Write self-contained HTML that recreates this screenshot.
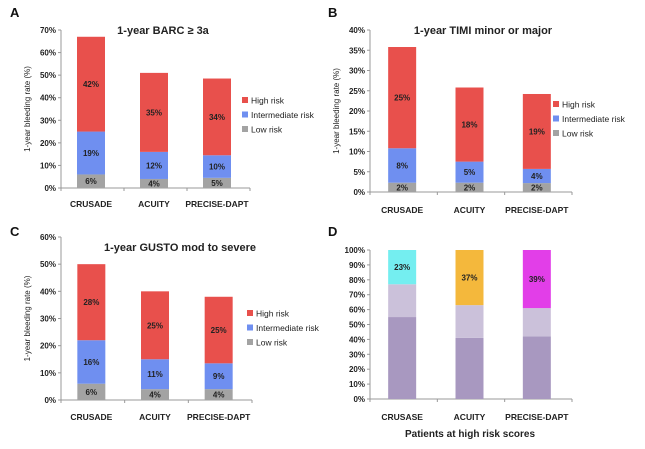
<!DOCTYPE html>
<html><head><meta charset="utf-8">
<style>
html,body{margin:0;padding:0;background:#fff;}
svg{display:block;font-family:"Liberation Sans",Arial,sans-serif;}
.t{font-size:8px;fill:#222;}
.b{font-weight:bold;}
.lg{font-size:8.5px;fill:#222;}
.cat{font-size:8.5px;font-weight:bold;fill:#222;}
</style></head>
<body>
<svg id="chart" width="645" height="449" viewBox="0 0 645 449"></svg>
<script>
const categories = ["CRUSADE","ACUITY","PRECISE-DAPT"];
const categoriesD = ["CRUSASE","ACUITY","PRECISE-DAPT"];
// Panel A: BARC >= 3a
const aLow = [6, 4, 4.5];
const aInt = [19, 12, 10];
const aHigh = [42, 35, 34];
const aLowLbl = ["6%","4%","5%"];
const aIntLbl = ["19%","12%","10%"];
const aHighLbl = ["42%","35%","34%"];
const aTicks = [0,10,20,30,40,50,60,70];
// Panel B: TIMI minor or major
const bLow = [2.3, 2.3, 2.2];
const bInt = [8.5, 5.2, 3.5];
const bHigh = [25, 18.3, 18.5];
const bLowLbl = ["2%","2%","2%"];
const bIntLbl = ["8%","5%","4%"];
const bHighLbl = ["25%","18%","19%"];
const bTicks = [0,5,10,15,20,25,30,35,40];
// Panel C: GUSTO mod to severe
const cLow = [6, 4, 4];
const cInt = [16, 11, 9.5];
const cHigh = [28, 25, 24.5];
const cLowLbl = ["6%","4%","4%"];
const cIntLbl = ["16%","11%","9%"];
const cHighLbl = ["28%","25%","25%"];
const cTicks = [0,10,20,30,40,50,60];
// Panel D: patients at high risk
const dLow = [55, 41, 42];
const dMid = [22, 22, 19];
const dHigh = [23, 37, 39];
const dHighLbl = ["23%","37%","39%"];
const dTicks = [0,10,20,30,40,50,60,70,80,90,100];

const svg = document.getElementById('chart');
const NS = "http://www.w3.org/2000/svg";
function mk(tag, attrs, parent){
  const e = document.createElementNS(NS, tag);
  for (const k in attrs) e.setAttribute(k, attrs[k]);
  (parent||svg).appendChild(e);
  return e;
}
function txt(x,y,s,cls,anchor,parent){
  const e = mk('text',{x:x,y:y,class:cls||'t','text-anchor':anchor||'middle'},parent);
  e.textContent = s;
  return e;
}

function panel(p){
  const g = mk('g',{});
  
  
  const yScale = v => p.y0 - (v / p.max) * (p.y0 - p.y1);
  const L = txt(p.letterX, p.letterY, p.letter, 't b', 'start', g);
  L.setAttribute('style','font-size:13px;fill:#111');
  
  
  const ax = mk('line',{x1:p.ax,y1:p.y1,x2:p.ax,y2:p.y0,stroke:'#999','stroke-width':1},g);
  
  
  const xa = mk('line',{x1:p.ax,y1:p.y0,x2:p.axEnd,y2:p.y0,stroke:'#999','stroke-width':1},g);
  
  
  p.ticks.forEach(t=>{
    const y = yScale(t);
    mk('line',{x1:p.ax-3,y1:y,x2:p.ax,y2:y,stroke:'#999'},g);
    const tl = txt(p.ax-5, y+3, t+'%', 't b', 'end', g);
    
    
  });
  const step = (p.axEnd - p.ax)/3;
  for (let i=0;i<=3;i++){
    mk('line',{x1:p.ax+i*step,y1:p.y0,x2:p.ax+i*step,y2:p.y0+3,stroke:'#999'},g);
  }
  if (p.yTitle){
    const yt = txt(0,0,p.yTitle,'t','middle',g);
    yt.setAttribute('transform','translate('+(p.ax-31)+','+((p.y0+p.y1)/2)+') rotate(-90)');
    
    
  }
  if (p.title){
    const tt = txt(p.titleX, p.titleY, p.title, 't b', 'middle', g);
    tt.setAttribute('style','font-size:11px;fill:#222');
    
    
  }
  const bw = 28;
  p.cats.forEach((c,i)=>{
    const cx = p.ax + step*(i+0.5) - 1.5;
    let base = 0;
    p.series.forEach((s,si)=>{
      const v = s.vals[i];
      const yt = yScale(base+v), yb = yScale(base);
      const r = mk('rect',{x:cx-bw/2,y:yt,width:bw,height:yb-yt,fill:s.colors?s.colors[i]:s.color},g);
      
      
      if (s.labels){
        const lt = txt(cx,(yt+yb)/2+3,s.labels[i],'t b','middle',g);
        
        
      }
      base += v;
    });
    const cl = txt(cx, p.catY, c, 'cat', 'middle', g);
    
    
  });
  if (p.legend){
    const items = [['High risk','#e8504c'],['Intermediate risk','#6f8ff0'],['Low risk','#a3a3a3']];
    items.forEach((it,k)=>{
      const y = p.legY + k*14.5;
      const r = mk('rect',{x:p.legX,y:y-5,width:6,height:6,fill:it[1]},g);
      
      
      const lt = txt(p.legX+9,y+1.5,it[0],'lg','start',g);
      
      
    });
  }
  if (p.xTitle){
    const xt = txt(p.xTitleX, p.xTitleY, p.xTitle, 't b', 'middle', g);
    xt.setAttribute('style','font-size:10px;fill:#222');
    
    
  }
}

const RED='#e8504c', BLUE='#6f8ff0', GRAY='#a3a3a3';
panel({name:'panel-a',letter:'A',letterX:10,letterY:17,ax:61,axEnd:250,y0:188,y1:30,max:70,ticks:aTicks,
  yTitle:'1-year bleeding rate (%)',title:'1-year BARC \u2265 3a',titleX:163,titleY:34,cats:categories,catY:207,
  legend:true,legX:242,legY:102,
  series:[{key:'low',vals:aLow,color:GRAY,labels:aLowLbl},{key:'intermediate',vals:aInt,color:BLUE,labels:aIntLbl},{key:'high',vals:aHigh,color:RED,labels:aHighLbl}]});
panel({name:'panel-b',letter:'B',letterX:328,letterY:17,ax:370,axEnd:572,y0:192,y1:30,max:40,ticks:bTicks,
  yTitle:'1-year bleeding rate (%)',title:'1-year TIMI minor or major',titleX:483,titleY:34,cats:categories,catY:213,
  legend:true,legX:553,legY:106,
  series:[{key:'low',vals:bLow,color:GRAY,labels:bLowLbl},{key:'intermediate',vals:bInt,color:BLUE,labels:bIntLbl},{key:'high',vals:bHigh,color:RED,labels:bHighLbl}]});
panel({name:'panel-c',letter:'C',letterX:10,letterY:236,ax:61,axEnd:252,y0:400,y1:237,max:60,ticks:cTicks,
  yTitle:'1-year bleeding rate (%)',title:'1-year GUSTO mod to severe',titleX:180,titleY:251,cats:categories,catY:420,
  legend:true,legX:247,legY:315,
  series:[{key:'low',vals:cLow,color:GRAY,labels:cLowLbl},{key:'intermediate',vals:cInt,color:BLUE,labels:cIntLbl},{key:'high',vals:cHigh,color:RED,labels:cHighLbl}]});
panel({name:'panel-d',letter:'D',letterX:328,letterY:236,ax:370,axEnd:572,y0:399,y1:250,max:100,ticks:dTicks,
  cats:categoriesD,catY:420,xTitle:'Patients at high risk scores',xTitleX:470,xTitleY:437,
  series:[{key:'low',vals:dLow,color:'#a898c0'},{key:'mid',vals:dMid,color:'#cbc1da'},{key:'high',vals:dHigh,colors:['#74eef0','#f4b83c','#e23ee8'],labels:dHighLbl}]});
</script>
</body></html>
